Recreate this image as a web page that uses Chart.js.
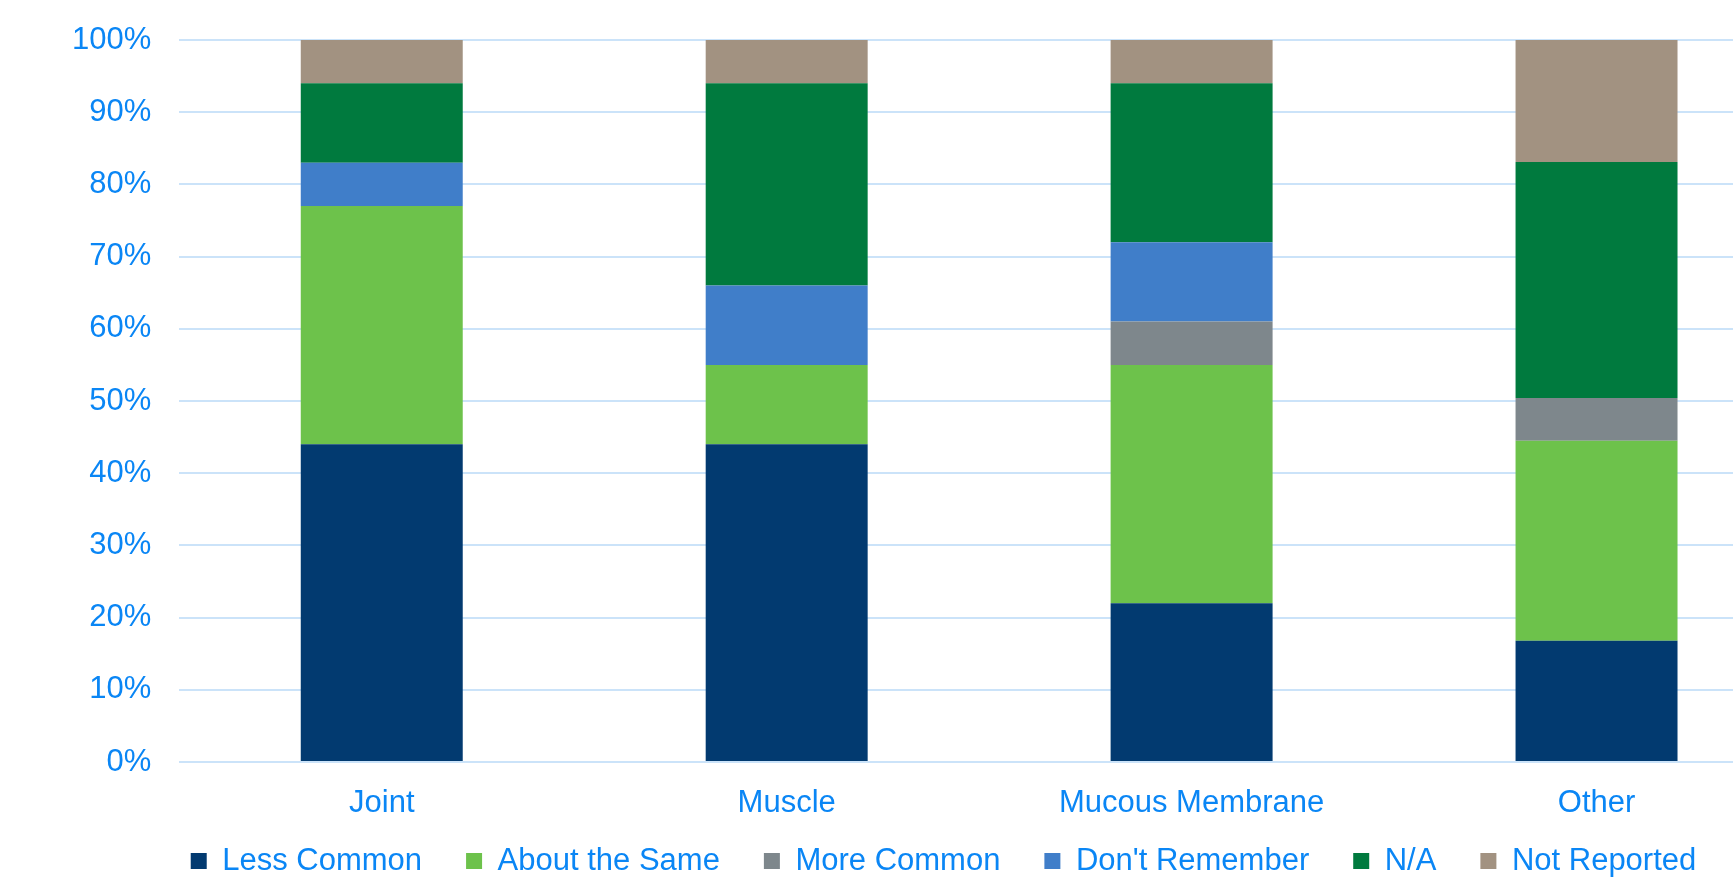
<!DOCTYPE html>
<html>
<head>
<meta charset="utf-8">
<title>Chart</title>
<script src="https://cdn.jsdelivr.net/npm/chart.js@4/dist/chart.umd.min.js"></script>
<style>
  html, body { margin: 0; padding: 0; background: #ffffff; overflow: hidden; }
  #contenedor { position: relative; width: 1799px; height: 887px; }
</style>
</head>
<body>
<div id="contenedor"><canvas id="grafica"></canvas></div>
<script>
// Data (percent of each category)
const categorias = ["Joint", "Muscle", "Mucous Membrane", "Other"];
const lessCommon = [44, 44, 22, 16.8];
const aboutTheSame = [33, 11, 33, 27.7];
const moreCommon = [0, 0, 6, 5.9];
const dontRemember = [6, 11, 11, 0];
const noAplica = [11, 28, 22, 32.7];
const notReported = [6, 6, 6, 16.9];
const ticksY = [0, 10, 20, 30, 40, 50, 60, 70, 80, 90, 100];

const azulTexto = "#0a86f5";
const fuente = "'Liberation Sans', Arial, sans-serif";

document.addEventListener("DOMContentLoaded", function () {
  cargarGrafica();
});

// moves the legend closer to the axis labels and a bit to the right
const moverLeyenda = {
  id: "moverLeyenda",
  afterLayout: function (chart) {
    const l = chart.legend;
    if (l) {
      l.left += 22;
      l.right += 22;
      l.top -= 16.5; // bottom stays, so the text is not clipped
    }
  },
};

function cargarGrafica() {
  const ctx = document.getElementById("grafica").getContext("2d");

  const series = [
    { label: "Less Common", data: lessCommon, color: "#023a70" },
    { label: "About the Same", data: aboutTheSame, color: "#6dc24b" },
    { label: "More Common", data: moreCommon, color: "#7e878c" },
    { label: "Don't Remember", data: dontRemember, color: "#407ec9" },
    { label: "N/A", data: noAplica, color: "#007a3e" },
    { label: "Not Reported", data: notReported, color: "#a29281" },
  ];

  const data = {
    labels: categorias,
    datasets: series.map(function (s) {
      return {
        label: s.label,
        data: s.data,
        backgroundColor: s.color,
        borderWidth: 0,
        barPercentage: 0.4,
        categoryPercentage: 1.0,
      };
    }),
  };

  const options = {
    responsive: true,
    maintainAspectRatio: false,
    animation: false,
    layout: {
      padding: { top: 40, left: 44, right: 0, bottom: 0 },
    },
    plugins: {
      legend: {
        position: "bottom",
        maxHeight: 69,
        labels: {
          color: azulTexto,
          font: { family: fuente, size: 31 },
          boxWidth: 16,
          boxHeight: 16,
          padding: 44,
        },
      },
      tooltip: { enabled: false },
    },
    scales: {
      x: {
        stacked: true,
        grid: { display: false },
        border: { display: false },
        afterFit: function (scale) {
          scale.height = 56;
        },
        ticks: {
          color: azulTexto,
          font: { family: fuente, size: 31, lineHeight: 0.4 },
          padding: 27,
          maxRotation: 0,
        },
      },
      y: {
        stacked: true,
        min: 0,
        max: 100,
        afterBuildTicks: function (axis) {
          axis.ticks = ticksY.map(function (v) { return { value: v }; });
        },
        grid: { color: "#cbe3f9", lineWidth: 2, drawTicks: false },
        border: { display: false },
        ticks: {
          color: azulTexto,
          font: { family: fuente, size: 31, lineHeight: 0.6 },
          padding: 28,
          callback: function (v) { return v + "%"; },
        },
      },
    },
  };

  new Chart(ctx, {
    type: "bar",
    data: data,
    options: options,
    plugins: [moverLeyenda],
  });
}
</script>
</body>
</html>
